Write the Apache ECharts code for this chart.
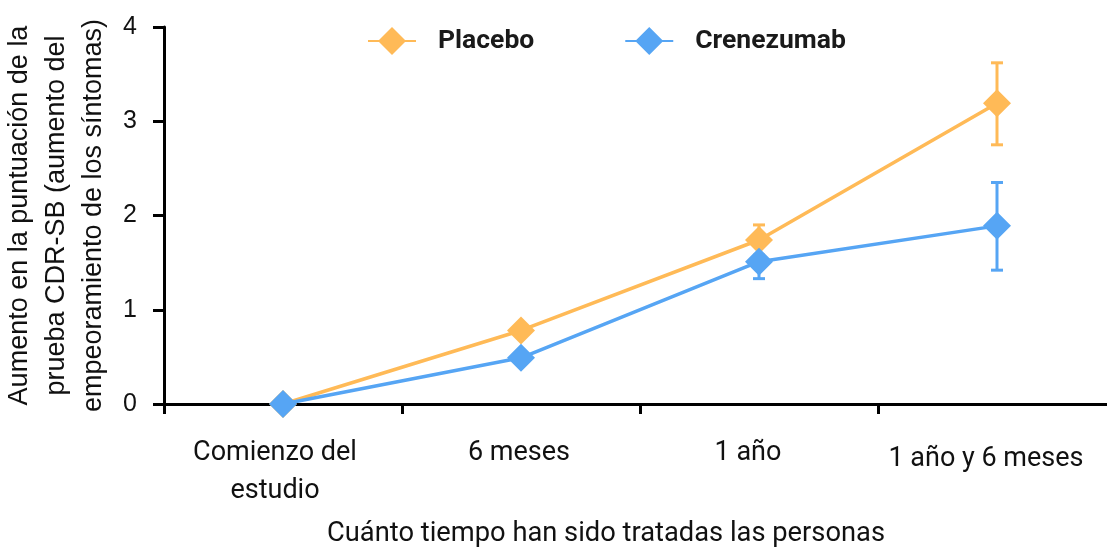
<!DOCTYPE html>
<html>
<head>
<meta charset="utf-8">
<script src="https://cdn.jsdelivr.net/npm/echarts@6/dist/echarts.min.js"></script>
<style>
  html, body { margin: 0; padding: 0; background: #ffffff; }
  #chart { width: 1107px; height: 547px; }
</style>
</head>
<body>
<div id="chart"></div>
<script>
// Visits along the study
const categories = ['Comienzo del\nestudio', '6 meses', '1 año', '1 año y 6 meses'];
// Mean increase in CDR-SB score
const placebo = [0, 0.78, 1.74, 3.19];
const crenezumab = [0, 0.49, 1.51, 1.89];
// Error bar ranges [low, high] (null where no bar is drawn)
const placeboErr = [null, null, [1.58, 1.90], [2.75, 3.62]];
const crenezumabErr = [null, null, [1.33, 1.69], [1.42, 2.35]];
// Y-axis ticks
const yTicks = [0, 1, 2, 3, 4];

const ORANGE = '#FFBA57';
const BLUE = '#56A5F4';

// Per-label nudges for the category texts
const labelPad = [[0, 16, 0, 0], [0, 4, 0, 0], [0, 22, 0, 0], [6, 22, 0, 0]];

function errSeries(name, ranges, color) {
  const data = [];
  ranges.forEach((r, i) => { if (r) data.push([i, r[0], r[1]]); });
  return {
    name: name,
    type: 'custom',
    z: 1,
    silent: true,
    data: data,
    renderItem: function (params, api) {
      const x = api.value(0);
      const lo = api.coord([x, api.value(1)]);
      const hi = api.coord([x, api.value(2)]);
      const w = 6;
      const style = { stroke: color, lineWidth: 3 };
      return {
        type: 'group',
        children: [
          { type: 'line', shape: { x1: lo[0], y1: lo[1], x2: hi[0], y2: hi[1] }, style: style },
          { type: 'line', shape: { x1: lo[0] - w, y1: lo[1], x2: lo[0] + w, y2: lo[1] }, style: style },
          { type: 'line', shape: { x1: hi[0] - w, y1: hi[1], x2: hi[0] + w, y2: hi[1] }, style: style }
        ]
      };
    }
  };
}

function lineSeries(name, values, color, z) {
  return {
    name: name,
    type: 'line',
    z: z,
    data: values,
    symbol: 'diamond',
    symbolSize: 28,
    showAllSymbol: true,
    lineStyle: { color: color, width: 3.5 },
    itemStyle: { color: color },
    emphasis: { disabled: true }
  };
}

const chart = echarts.init(document.getElementById('chart'), null, { renderer: 'canvas' });
chart.setOption({
  animation: false,
  backgroundColor: '#ffffff',
  grid: { left: 164, right: -9, top: 27, bottom: 143, containLabel: false, outerBoundsMode: 'none' },
  legend: {
    left: 362,
    top: 22,
    itemWidth: 48,
    itemHeight: 35,
    itemGap: 90,
    data: ['Placebo', 'Crenezumab'],
    textStyle: {
      fontFamily: 'Roboto',
      fontWeight: 'bold',
      fontSize: 26.5,
      color: '#1a1a1a',
      padding: [0, 0, 0, 17]
    }
  },
  xAxis: {
    type: 'category',
    data: categories.map((c, i) => ({ value: c, textStyle: { padding: labelPad[i] } })),
    boundaryGap: true,
    axisLine: { lineStyle: { color: '#000', width: 3 } },
    axisTick: { show: true, length: 10, lineStyle: { color: '#000', width: 3 } },
    axisLabel: {
      margin: 30,
      fontFamily: 'Roboto',
      fontSize: 27,
      lineHeight: 38,
      color: '#111',
      interval: 0
    },
    splitLine: { show: false }
  },
  yAxis: {
    type: 'value',
    min: yTicks[0],
    max: yTicks[yTicks.length - 1],
    interval: 1,
    name: 'Aumento en la puntuación de la\nprueba CDR-SB (aumento del\nempeoramiento de los síntomas)',
    nameLocation: 'middle',
    nameGap: 42,
    nameTextStyle: {
      fontFamily: 'Liberation Sans',
      fontSize: 27,
      lineHeight: 37,
      color: '#111',
      align: 'center'
    },
    axisLine: { show: true, lineStyle: { color: '#000', width: 3 } },
    axisTick: { show: true, length: 11, lineStyle: { color: '#000', width: 3 } },
    axisLabel: {
      margin: 27,
      fontFamily: 'Liberation Sans',
      fontSize: 25,
      color: '#111'
    },
    splitLine: { show: false }
  },
  graphic: [{
    type: 'text',
    left: 327,
    top: 521,
    style: {
      text: 'Cuánto tiempo han sido tratadas las personas',
      fontFamily: 'Roboto',
      fontSize: 27.3,
      fill: '#111'
    }
  }],
  series: [
    lineSeries('Placebo', placebo, ORANGE, 3),
    lineSeries('Crenezumab', crenezumab, BLUE, 4),
    errSeries('Crenezumab', crenezumabErr, BLUE),
    errSeries('Placebo', placeboErr, ORANGE)
  ]
});
</script>
</body>
</html>
